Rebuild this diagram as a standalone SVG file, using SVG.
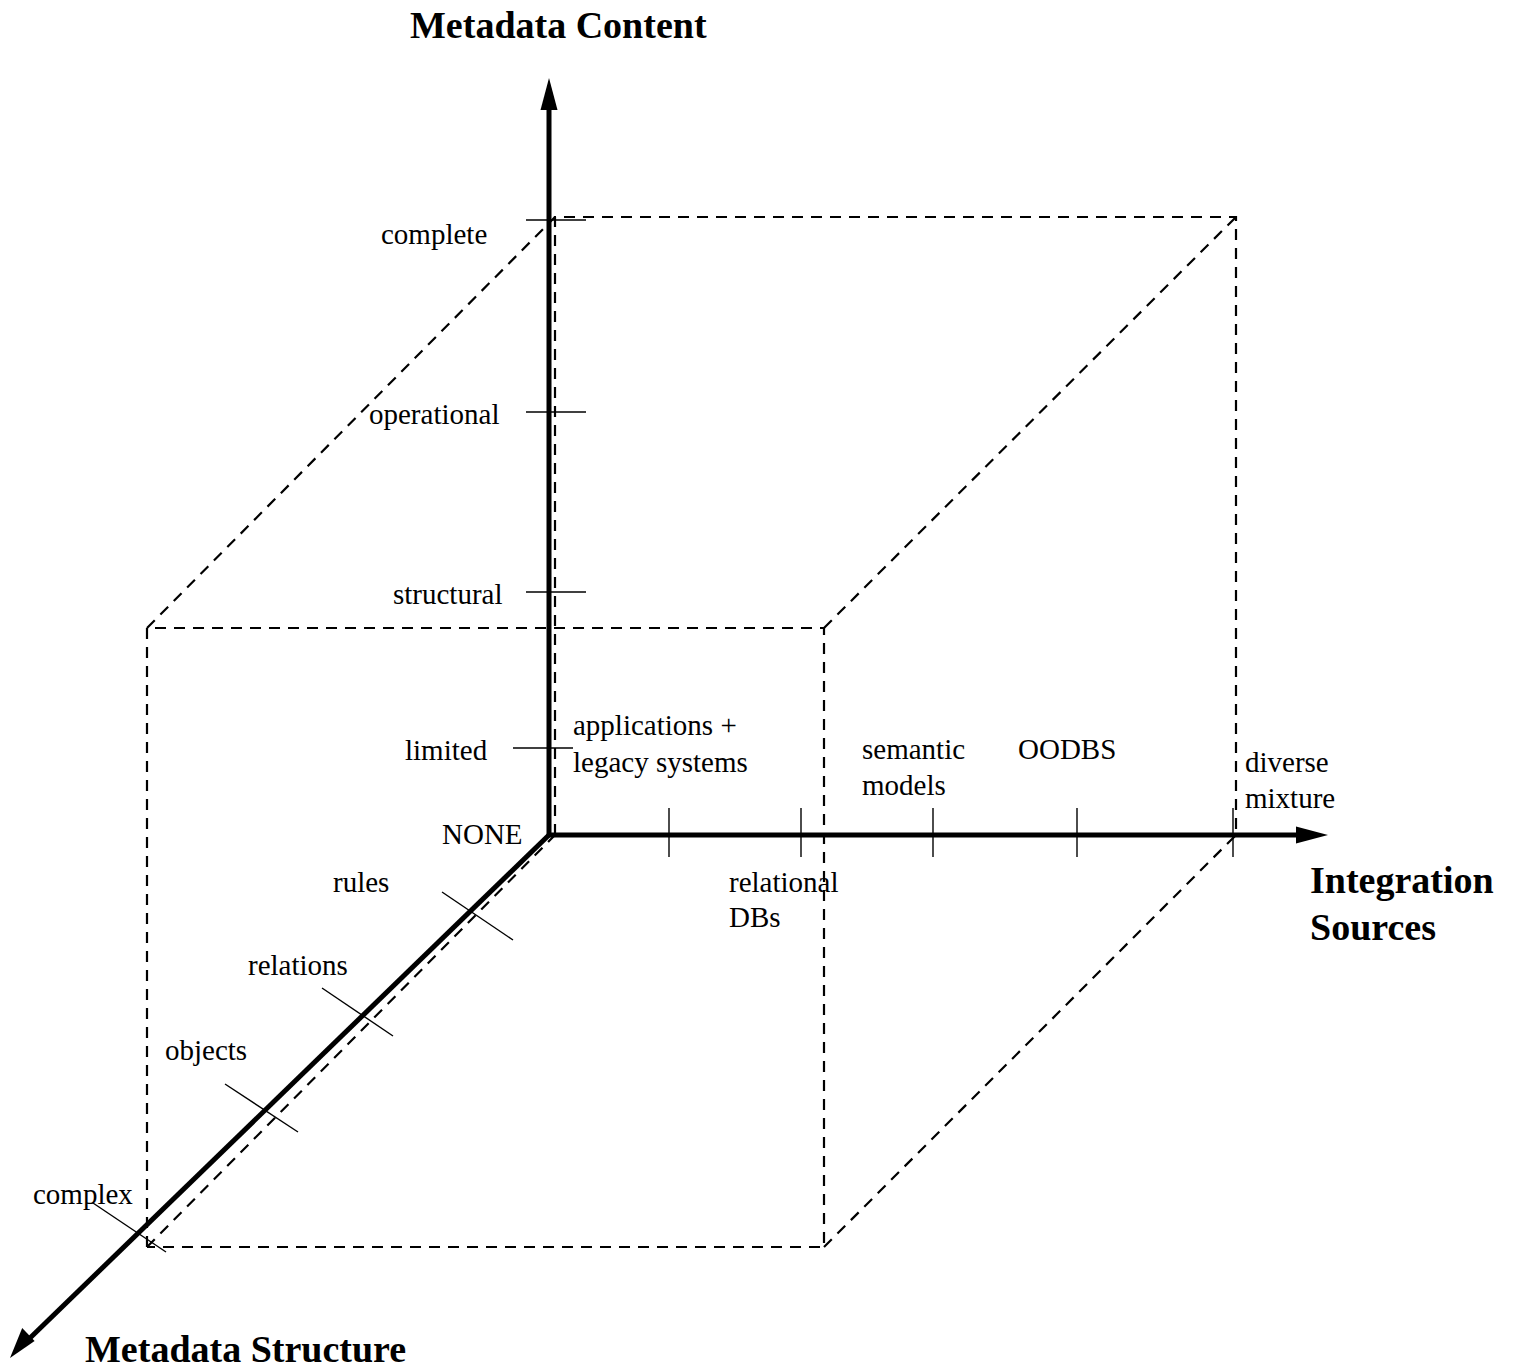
<svg xmlns="http://www.w3.org/2000/svg" width="1514" height="1368" viewBox="0 0 1514 1368">
<style>
.axis{stroke:#000;stroke-width:5;fill:none}
.tick{stroke:#000;stroke-width:1.4;fill:none}
.dash{stroke:#000;stroke-width:2.2;fill:none;stroke-dasharray:11 8}
.lbl{font-family:"Liberation Serif","Times New Roman",serif;font-size:29px;fill:#000}
.ttl{font-family:"Liberation Serif","Times New Roman",serif;font-size:38px;font-weight:bold;fill:#000}
</style>
<rect width="1514" height="1368" fill="#fff"/>
<g id="cube">
<polyline class="dash" points="555,835 555,217 1236,217 1236,835"/>
<polyline class="dash" points="147,1247 147,628 824,628 824,1247 147,1247"/>
<line class="dash" x1="147" y1="628" x2="555" y2="217"/>
<line class="dash" x1="824" y1="628" x2="1236" y2="217"/>
<line class="dash" x1="824" y1="1247" x2="1236" y2="835"/>
<line class="dash" x1="147" y1="1247" x2="555" y2="835"/>
</g>
<g id="connectors">
<line class="axis" x1="549" y1="837" x2="549" y2="106"/>
<path d="M549,78 L540.5,110 L557.5,110 Z" fill="#000"/>
<line class="axis" x1="547" y1="835" x2="1300" y2="835"/>
<path d="M1328,835 L1296,826.5 L1296,843.5 Z" fill="#000"/>
<line class="axis" x1="550" y1="834" x2="30" y2="1338"/>
<path d="M10,1358 L22.2,1328 L34.6,1341 Z" fill="#000"/>
</g>
<g id="ticks">
<line class="tick" x1="526" y1="220" x2="586" y2="220"/>
<line class="tick" x1="526" y1="412" x2="586" y2="412"/>
<line class="tick" x1="526" y1="592" x2="586" y2="592"/>
<line class="tick" x1="513" y1="748" x2="573" y2="748"/>
<line class="tick" x1="669" y1="808" x2="669" y2="857"/>
<line class="tick" x1="801" y1="808" x2="801" y2="857"/>
<line class="tick" x1="933" y1="808" x2="933" y2="857"/>
<line class="tick" x1="1077" y1="808" x2="1077" y2="857"/>
<line class="tick" x1="1233" y1="808" x2="1233" y2="857"/>
<line class="tick" x1="442" y1="892" x2="513" y2="940"/>
<line class="tick" x1="322" y1="988" x2="393" y2="1036"/>
<line class="tick" x1="225" y1="1084" x2="298" y2="1132"/>
<line class="tick" x1="93" y1="1203" x2="166" y2="1252"/>
</g>
<g id="axis-titles">
<text class="ttl" x="410" y="38">Metadata Content</text>
<text class="ttl" x="1310" y="893">Integration</text>
<text class="ttl" x="1310" y="940">Sources</text>
<text class="ttl" x="85" y="1362">Metadata Structure</text>
</g>
<g id="content-labels">
<text class="lbl" x="381" y="244">complete</text>
<text class="lbl" x="369" y="424">operational</text>
<text class="lbl" x="393" y="604">structural</text>
<text class="lbl" x="405" y="760">limited</text>
<text class="lbl" x="442" y="844">NONE</text>
</g>
<g id="structure-labels">
<text class="lbl" x="333" y="892">rules</text>
<text class="lbl" x="248" y="975">relations</text>
<text class="lbl" x="165" y="1060">objects</text>
<text class="lbl" x="33" y="1204">complex</text>
</g>
<g id="source-labels">
<text class="lbl" x="573" y="735">applications +</text>
<text class="lbl" x="573" y="772">legacy systems</text>
<text class="lbl" x="729" y="892">relational</text>
<text class="lbl" x="729" y="927">DBs</text>
<text class="lbl" x="862" y="759">semantic</text>
<text class="lbl" x="862" y="795">models</text>
<text class="lbl" x="1018" y="759">OODBS</text>
<text class="lbl" x="1245" y="772">diverse</text>
<text class="lbl" x="1245" y="808">mixture</text>
</g>
</svg>
